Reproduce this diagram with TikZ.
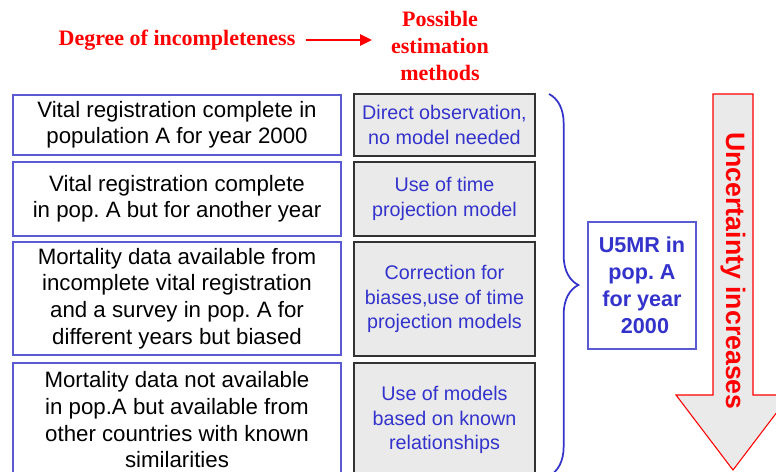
\documentclass[tikz,border=0pt]{standalone}
\usepackage{fontspec}
\setmainfont{Liberation Sans}
\newfontfamily\headfont{Liberation Serif}
\usetikzlibrary{decorations.pathreplacing,arrows.meta}
\frenchspacing

\definecolor{txtblue}{HTML}{3333CC}
\definecolor{edgeblue}{HTML}{5A5AD2}
\definecolor{boxgray}{HTML}{EAEAEA}
\newcommand{\pxu}{0.75pt}

\tikzset{
  header/.style={text=red,font=\headfont\bfseries\fontsize{16.5}{20.5}\selectfont,align=center,inner sep=0pt},
  databox/.style={draw=edgeblue,line width=0.9pt,fill=white,minimum width=328*\pxu,inner sep=0pt,
    align=center,font=\fontsize{16.7}{19.6}\selectfont},
  methodbox/.style={draw=black!80,line width=0.9pt,fill=boxgray,minimum width=181*\pxu,inner sep=0pt,
    align=center,text=txtblue,font=\fontsize{14.8}{18.6}\selectfont},
  resultbox/.style={draw=edgeblue,line width=0.8pt,fill=white,minimum width=108*\pxu,minimum height=127*\pxu,
    inner sep=0pt,align=center,text=txtblue,font=\bfseries\fontsize{16.2}{20.2}\selectfont}
}

\begin{document}
\begin{tikzpicture}[x=0.75pt,y=-0.75pt]
\clip (0,0) rectangle (776,472);
\fill[white] (0,0) rectangle (776,472);

% header
\node[header] (degree) at (177,40) {Degree of incompleteness};
\node[header] (possible) at (440,46) {Possible\\estimation\\methods};
\draw[red,line width=2.2pt,-{Triangle[length=9pt,width=8pt]},shorten <=8pt,shorten >=14pt]
  (degree.east) -- (degree.east -| possible.west);

% data situations
\node[databox,minimum height=60*\pxu] (vr1) at (177,125) {Vital registration complete in\\population A for year 2000};
\node[databox,minimum height=74*\pxu] (vr2) at (177,199) {Vital registration complete\\in pop. A but for another year};
\node[databox,minimum height=113*\pxu,font=\fontsize{16.7}{20}\selectfont] (vr3) at (177,298.5)
  {Mortality data available from\\incomplete vital registration\\and a survey in pop. A for\\different years but biased};
\node[databox,minimum height=114*\pxu,font=\fontsize{16.7}{20}\selectfont] (vr4) at (177,420)
  {Mortality data not available\\in pop.A but available from\\other countries with known\\similarities};

% methods
\node[methodbox,minimum height=62*\pxu] (m1) at (444.5,125) {Direct observation,\\no model needed};
\node[methodbox,minimum height=74*\pxu] (m2) at (444.5,199) {Use of time\\projection model};
\node[methodbox,minimum height=114*\pxu] (m3) at (444.5,299) {Correction for\\biases,use of time\\projection models};
\node[methodbox,minimum height=114*\pxu] (m4) at (444.5,420) {Use of models\\based on known\\relationships};

% brace and result
\coordinate (bracetop) at (549,94);
\coordinate (bracebot) at (549,476);
\draw[txtblue,line width=1.3pt,decorate,decoration={brace,amplitude=22pt}] (bracetop) -- (bracebot);
\node[resultbox] (u5mr) at (642,285.5) {U5MR in\\pop. A\\for year\\\ 2000};

% uncertainty arrow
\draw[red,line width=0.8pt,fill=boxgray] (713,94) -- (753,94) -- (753,395) -- (790,395) -- (733,470)
  -- (676,395) -- (713,395) -- cycle;
\node[rotate=-90,text=red,font=\bfseries\fontsize{20}{24}\selectfont,inner sep=0pt] (uncert) at (733,271)
  {Uncertainty increases};
\end{tikzpicture}
\end{document}
